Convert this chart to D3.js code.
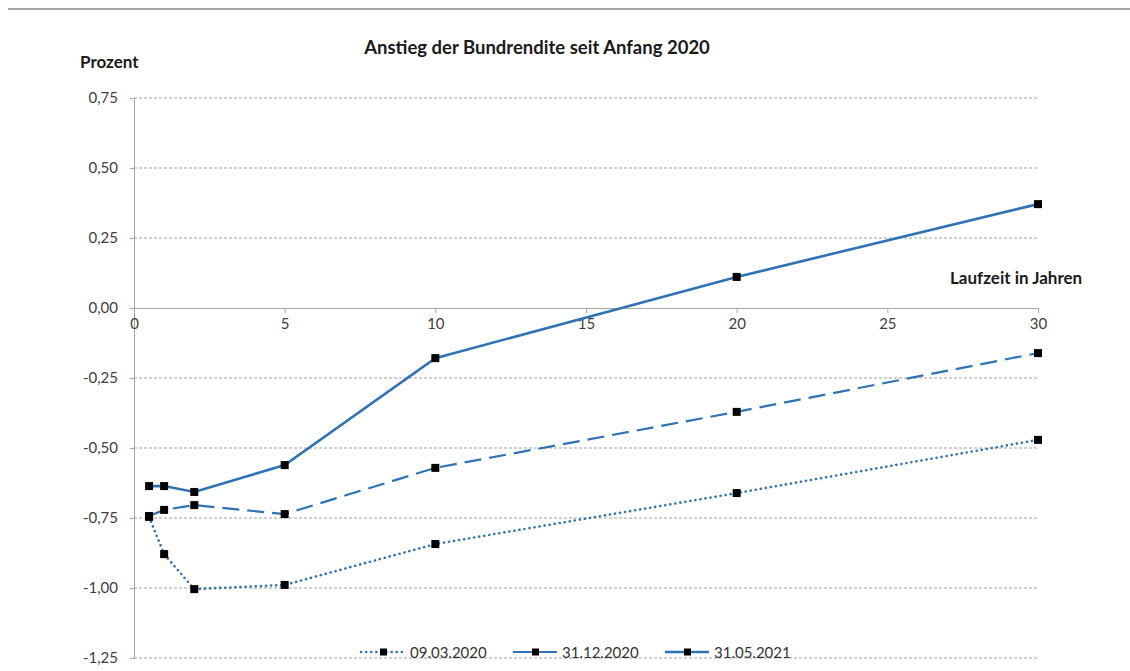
<!DOCTYPE html>
<html><head><meta charset="utf-8">
<script src="https://cdn.jsdelivr.net/npm/d3@7"></script>
<style>body{margin:0;background:#fff}svg{display:block}text{font-family:Lato,"Open Sans",sans-serif}</style>
</head><body>
<svg id="c" width="1130" height="671"></svg>
<script>
const maturities = [0.5, 1, 2, 5, 10, 20, 30];
const seriesNames = ["09.03.2020", "31.12.2020", "31.05.2021"];
const s0903 = [-0.746, -0.879, -1.004, -0.989, -0.843, -0.661, -0.471];
const s3112 = [-0.743, -0.721, -0.704, -0.736, -0.571, -0.371, -0.161];
const s3105 = [-0.636, -0.636, -0.657, -0.561, -0.179, 0.111, 0.371];
const xTicks = [0, 5, 10, 15, 20, 25, 30];
const yTicks = [0.75, 0.5, 0.25, 0, -0.25, -0.5, -0.75, -1, -1.25];

const svg = d3.select("#c");
const x = d3.scaleLinear().domain([0, 30]).range([134, 1038]);
const y = d3.scaleLinear().domain([-1.25, 0.75]).range([658, 98]);
const blue = "#2f73b4";
const fmt = v => d3.format(".2f")(v).replace(".", ",").replace("−", "-");

// top border
svg.append("line").attr("x1", 8).attr("x2", 1130).attr("y1", 9).attr("y2", 9)
  .attr("stroke", "#a6a6a6").attr("stroke-width", 2);

// grid
svg.append("g").selectAll("line").data(yTicks.filter(v => v !== 0)).join("line")
  .attr("x1", x(0)).attr("x2", x(30)).attr("y1", d => y(d)).attr("y2", d => y(d))
  .attr("stroke", "#a0a0a0").attr("stroke-width", 1).attr("stroke-dasharray", "3,2");

// y axis
const ya = svg.append("g").attr("transform", `translate(${x(0)},0)`)
  .call(d3.axisLeft(y).tickValues(yTicks).tickFormat(fmt).tickSize(4).tickPadding(12));
ya.select(".domain").attr("stroke", "#a6a6a6");
ya.selectAll(".tick line").attr("stroke", "#a6a6a6");
ya.selectAll("text").attr("font-size", 15).attr("fill", "#404040").style("font-family", "Lato, sans-serif");

// x axis
const xa = svg.append("g").attr("transform", `translate(0,${y(0)})`)
  .call(d3.axisBottom(x).tickValues(xTicks).tickSize(5).tickPadding(5).tickSizeOuter(0));
xa.select(".domain").attr("stroke", "#a6a6a6");
xa.selectAll(".tick line").attr("stroke", "#a6a6a6");
xa.selectAll("text").attr("font-size", 15).attr("fill", "#404040").style("font-family", "Lato, sans-serif");

const styles = [
  {data: s0903, dash: "0.1,5", cap: "round", w: 2.6},
  {data: s3112, dash: "17,8", cap: "butt", w: 2.2},
  {data: s3105, dash: null, cap: "butt", w: 2.6}
];
const line = d3.line().x((d, i) => x(maturities[i])).y(d => y(d));
styles.forEach(s => {
  svg.append("path").datum(s.data).attr("d", line).attr("fill", "none")
    .attr("stroke", blue).attr("stroke-width", s.w).attr("stroke-linecap", s.cap)
    .attr("stroke-dasharray", s.dash);
});
styles.forEach(s => {
  svg.append("g").selectAll("rect").data(s.data).join("rect")
    .attr("x", (d, i) => x(maturities[i]) - 4).attr("y", d => y(d) - 4)
    .attr("width", 8).attr("height", 8).attr("fill", "#000");
});

// titles
svg.append("text").attr("x", 537).attr("y", 54).attr("text-anchor", "middle")
  .attr("font-size", 18.5).attr("font-weight", "bold").attr("fill", "#1a1a1a")
  .text("Anstieg der Bundrendite seit Anfang 2020");
svg.append("text").attr("x", 80).attr("y", 68)
  .attr("font-size", 17).attr("font-weight", "bold").attr("fill", "#1a1a1a").text("Prozent");
svg.append("text").attr("x", 950).attr("y", 284)
  .attr("font-size", 17).attr("font-weight", "bold").attr("fill", "#1a1a1a").text("Laufzeit in Jahren");

// legend
const legX = [361, 513, 665];
styles.forEach((s, i) => {
  const g = svg.append("g").attr("transform", `translate(${legX[i]},652)`);
  g.append("line").attr("x1", 0).attr("x2", 44).attr("y1", 0).attr("y2", 0)
    .attr("stroke", blue).attr("stroke-width", s.w)
    .attr("stroke-dasharray", i === 0 ? "0.1,5" : null).attr("stroke-linecap", s.cap);
  g.append("rect").attr("x", 19).attr("y", -3.5).attr("width", 7).attr("height", 7).attr("fill", "#000");
  g.append("text").attr("x", 49).attr("y", 5.5).attr("font-size", 15)
    .attr("fill", "#333").text(seriesNames[i]);
});
</script>
</body></html>
